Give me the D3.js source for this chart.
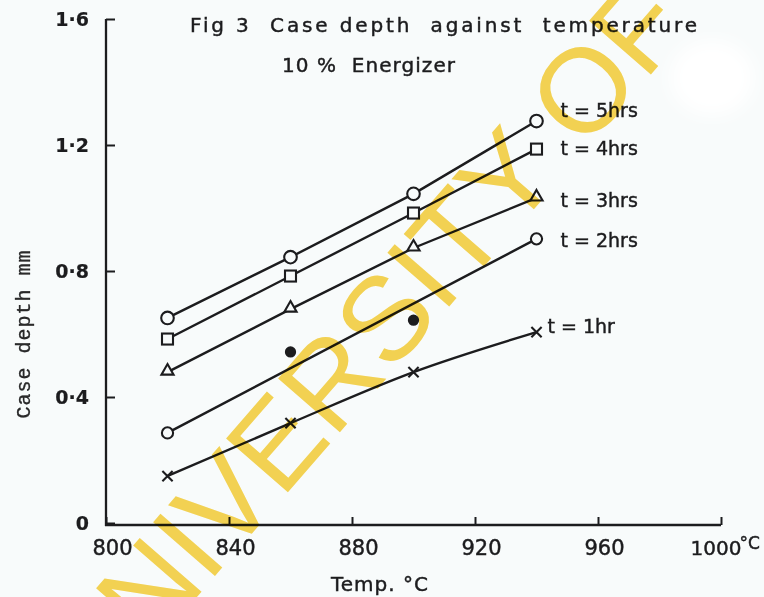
<!DOCTYPE html>
<html>
<head>
<meta charset="utf-8">
<script src="https://cdn.jsdelivr.net/npm/d3@7"></script>
<style>
  html, body { margin: 0; padding: 0; background: #f8fbfb; }
  svg { display: block; }
</style>
</head>
<body>
<svg id="chart" width="764" height="597"></svg>
<script>
// Case depth (mm) against carburising temperature, 10 % energizer
const temps = [820, 860, 900, 940];
const depth5h = [0.651, 0.844, 1.045, 1.276];
const depth4h = [0.584, 0.784, 0.984, 1.187];
const depth3h = [0.479, 0.679, 0.873, 1.032];
const depth2h = [0.286, 0.543, 0.644, 0.902];
const depth2hFitTemps = [820, 940];
const depth2hFit = [0.286, 0.902];
const depth1h = [0.149, 0.317, 0.479, 0.606];

const seriesLabels = ["t = 5hrs", "t = 4hrs", "t = 3hrs", "t = 2hrs", "t = 1hr"];
const xTicks = [800, 840, 880, 920, 960, 1000];
const yTicks = [0, 0.4, 0.8, 1.2, 1.6];

const titleLine1 = "Fig 3  Case depth  against  temperature";
const titleLine2 = "10 %  Energizer";
const xTitle = "Temp. °C";
const yTitle = "Case depth mm";
const watermark = "UNIVERSITY OF";

const svg = d3.select("#chart");
const W = 764, H = 597;
const ink = "#1c1c1e";
const paper = "#f8fbfb";

svg.append("rect").attr("width", W).attr("height", H).attr("fill", paper);

// soft white patch of the scanned page
const defs = svg.append("defs");
defs.append("filter").attr("id", "soft").append("feGaussianBlur").attr("stdDeviation", 8);
svg.append("ellipse").attr("cx", 712).attr("cy", 78).attr("rx", 42).attr("ry", 38)
  .attr("fill", "#ffffff").attr("filter", "url(#soft)");

const x = d3.scaleLinear().domain([800, 1000]).range([106, 721]);
const y = d3.scaleLinear().domain([0, 1.6]).range([523, 19]);

// lettering: scanned ink looks a little heavier than the plain font
const letter = (sel, size, family) => sel
  .style("font-family", family || "DejaVu Sans").style("font-size", size + "px")
  .attr("fill", ink).attr("stroke", ink).attr("stroke-width", 0.45);

// axes
const yAxis = d3.axisLeft(y).tickValues(yTicks).tickSize(-9).tickSizeOuter(0).tickPadding(17)
  .tickFormat(d => d === 0 ? "0" : d3.format(".1f")(d).replace(".", "·"));
const gy = svg.append("g").attr("transform", `translate(${x(800)},0)`).call(yAxis);
gy.select(".domain").attr("stroke", ink).attr("stroke-width", 2.3)
  .attr("d", `M0,${y(1.6)}V${y(0) + 3}`);
gy.selectAll(".tick line").attr("stroke", ink).attr("stroke-width", 2);
gy.selectAll(".tick text").call(letter, 19).style("font-weight", "bold").attr("stroke-width", 0.2);

const xAxis = d3.axisBottom(x).tickValues(xTicks).tickSize(-8).tickSizeOuter(0)
  .tickFormat(d => String(d));
const gx = svg.append("g").attr("transform", `translate(0,${y(0) + 2})`).call(xAxis);
gx.select(".domain").attr("stroke", ink).attr("stroke-width", 2.3)
  .attr("d", `M${x(800) - 1},0H${x(1000)}`);
gx.selectAll(".tick line").attr("stroke", ink).attr("stroke-width", 2);
gx.selectAll(".tick text").attr("dy", null).attr("y", 30).attr("dx", 6).call(letter, 21);
// last tick carries the unit, raised just after the number
gx.selectAll(".tick text").filter(d => d === 1000)
  .attr("text-anchor", "start").attr("dx", -31).style("font-size", "20px")
  .append("tspan").attr("dx", -2).attr("dy", -6).style("font-size", "17px").text("°C");

// titles
svg.append("text").attr("x", 190).attr("y", 32).attr("textLength", 507)
  .attr("lengthAdjust", "spacing").style("white-space", "pre")
  .call(letter, 20).text(titleLine1);
svg.append("text").attr("x", 282).attr("y", 72).attr("textLength", 173)
  .attr("lengthAdjust", "spacing").style("white-space", "pre")
  .call(letter, 20).text(titleLine2);

svg.append("text").attr("x", 380).attr("y", 591).attr("text-anchor", "middle")
  .call(letter, 20).style("letter-spacing", "1px").text(xTitle);

svg.append("text").attr("transform", "translate(30,334) rotate(-90)")
  .attr("text-anchor", "middle")
  .call(letter, 20, "Liberation Mono").attr("fill", "#2a2a2a").attr("stroke-width", 0.3)
  .style("letter-spacing", "1px").text(yTitle);

// series lines
const line = d3.line().x(d => x(d[0])).y(d => y(d[1]));
const zipT = vals => temps.map((t, i) => [t, vals[i]]);

const plot = svg.append("g").attr("fill", "none").attr("stroke", ink)
  .attr("stroke-width", 2.4).attr("stroke-linecap", "round");
plot.append("path").attr("d", line(zipT(depth5h)));
plot.append("path").attr("d", line(zipT(depth4h)));
plot.append("path").attr("d", line(zipT(depth3h)));
plot.append("path").attr("d", line(depth2hFitTemps.map((t, i) => [t, depth2hFit[i]])));
plot.append("path").attr("d", line.curve(d3.curveMonotoneX)(zipT(depth1h)));

// markers
const mk = svg.append("g").attr("stroke", ink).attr("stroke-width", 2.1);
zipT(depth5h).forEach(d =>
  mk.append("circle").attr("cx", x(d[0])).attr("cy", y(d[1])).attr("r", 6.3).attr("fill", paper));
zipT(depth4h).forEach(d => mk.append("rect").attr("x", x(d[0]) - 5.5).attr("y", y(d[1]) - 5.5)
  .attr("width", 11).attr("height", 11).attr("fill", paper));
const tri = d3.symbol().type(d3.symbolTriangle).size(64);
zipT(depth3h).forEach(d => mk.append("path").attr("d", tri())
  .attr("transform", `translate(${x(d[0])},${y(d[1]) - 1})`).attr("fill", paper));
zipT(depth2h).forEach((d, i) => {
  const ends = i === 0 || i === temps.length - 1;
  mk.append("circle").attr("cx", x(d[0])).attr("cy", y(d[1]))
    .attr("r", ends ? 5.6 : 4.6).attr("fill", ends ? paper : ink);
});
const cross = d3.symbol().type(d3.symbolX).size(70);
zipT(depth1h).forEach(d => mk.append("path").attr("d", cross())
  .attr("transform", `translate(${x(d[0])},${y(d[1])})`).attr("fill", "none"));

// series labels beside the last point
const lastVals = [depth5h, depth4h, depth3h, depth2h, depth1h].map(v => v[v.length - 1]);
const labelShift = [[24, -4], [24, 6], [24, 9], [24, 8], [11, 1]];
lastVals.forEach((v, i) => {
  svg.append("text").attr("x", x(940) + labelShift[i][0]).attr("y", y(v) + labelShift[i][1])
    .style("white-space", "pre").call(letter, 19).text(seriesLabels[i]);
});

// watermark stamped across the page
svg.append("text").attr("transform", "translate(95,714) rotate(-49)")
  .style("font-family", "Liberation Sans").style("font-size", "119px")
  .style("mix-blend-mode", "multiply")
  .attr("fill", "#f9d553").text(watermark);
</script>
</body>
</html>
